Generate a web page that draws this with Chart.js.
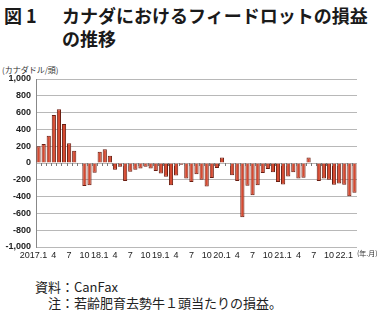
<!DOCTYPE html>
<html>
<head>
<meta charset="utf-8">
<script src="https://cdn.jsdelivr.net/npm/chart.js@4/dist/chart.umd.min.js"></script>
<style>
  body { margin: 0; width: 378px; height: 310px; background: #fff; position: relative; overflow: hidden;
         font-family: "Noto Sans CJK JP", sans-serif; color: #222; }
  .abs { position: absolute; white-space: nowrap; line-height: 1; }
  .title { font-weight: bold; font-size: 18px; color: #1a1a1a; }
  .note { font-size: 13px; color: #222; }
  #wrap { position: absolute; left: 0; top: 60px; width: 378px; height: 205px; }
</style>
</head>
<body>
<div class="abs title" style="left:4px;top:6px;">図 1</div>
<div class="abs title" style="left:62px;top:6px;">カナダにおけるフィードロットの損益</div>
<div class="abs title" style="left:62px;top:29px;">の推移</div>
<div class="abs" style="left:2px;top:66px;font-size:8px;color:#333;">(カナダドル/頭)</div>
<div id="wrap"><canvas id="chart" width="378" height="205"></canvas></div>
<div class="abs" style="left:357px;top:250px;font-size:7px;color:#333;">(年.月)</div>
<div class="abs note" style="left:35px;top:280px;">資料：CanFax</div>
<div class="abs note" style="left:48px;top:296px;">注：若齢肥育去勢牛１頭当たりの損益。</div>

<script>
// monthly profit / loss, CAD per head (2017.1 - 2022.3)
const profit2017 = [200, 225, 325, 570, 640, 465, 235, 145, -10, -275, -265, -115];
const profit2018 = [135, 165, 85, -80, -45, -215, -105, -80, -65, -45, -65, -95];
const profit2019 = [-125, -165, -265, -150, -20, -185, -225, -135, -200, -280, -180, -60];
const profit2020 = [65, -10, -145, -215, -645, -270, -385, -265, -120, -70, -110, -225];
const profit2021 = [-255, -160, -110, -185, -175, 65, -10, -215, -185, -200, -260, -245];
const profit2022 = [-260, -395, -355];

// the trailing spaces pull the first label a little to the left, as in the original
const tickLabels = [
  '2017.1    ', '', '', '4', '', '', '7', '', '', '10', '', '',
  '18.1', '', '', '4', '', '', '7', '', '', '10', '', '',
  '19.1', '', '', '4', '', '', '7', '', '', '10', '', '',
  '20.1', '', '', '4', '', '', '7', '', '', '10', '', '',
  '21.1', '', '', '4', '', '', '7', '', '', '10', '', '',
  '22.1', '', ''
];

const yTicks = [-1000, -800, -600, -400, -200, 0, 200, 400, 600, 800, 1000];

const values = [].concat(profit2017, profit2018, profit2019, profit2020, profit2021, profit2022);

// little tick marks on the zero line, between the bars
const zeroTicks = {
  id: 'zeroTicks',
  afterDatasetsDraw(chart) {
    const xs = chart.scales.x, ys = chart.scales.y;
    const y0 = ys.getPixelForValue(0);
    const ctx = chart.ctx;
    ctx.save();
    ctx.strokeStyle = '#777';
    ctx.lineWidth = 1;
    ctx.beginPath();
    for (let i = 1; i < values.length; i++) {
      const bx = Math.round((xs.getPixelForValue(i - 1) + xs.getPixelForValue(i)) / 2) + 0.5;
      ctx.moveTo(bx, y0);
      ctx.lineTo(bx, y0 + 3);
    }
    ctx.stroke();
    ctx.restore();
  }
};

new Chart(document.getElementById('chart'), {
  type: 'bar',
  data: {
    labels: tickLabels,
    datasets: [{
      data: values,
      backgroundColor: '#d54a31',
      borderColor: '#6a1e12',
      borderWidth: 1,
      barPercentage: 0.82,
      categoryPercentage: 1
    }]
  },
  options: {
    responsive: false,
    animation: false,
    layout: { padding: { top: 19, right: 21, left: 0, bottom: 0 } },
    plugins: { legend: { display: false }, tooltip: { enabled: false } },
    scales: {
      x: {
        grid: { display: false, drawTicks: false },
        border: { display: false },
        ticks: {
          autoSkip: false, maxRotation: 0, minRotation: 0, padding: 3,
          color: '#222', font: { family: 'Liberation Sans', size: 9 }
        },
        afterFit: s => { s.height = 18; }
      },
      y: {
        min: -1000, max: 1000,
        afterBuildTicks: s => { s.ticks = yTicks.map(v => ({ value: v })); },
        grid: { color: '#b8b8b8', lineWidth: 1, drawTicks: false },
        border: { color: '#888' },
        ticks: {
          padding: 5, color: '#222',
          font: { family: 'Liberation Sans', size: 9, weight: 'bold' },
          callback: v => v.toLocaleString('en-US')
        },
        afterFit: s => { s.width = 36; }
      }
    }
  },
  plugins: [zeroTicks]
});
</script>
</body>
</html>
